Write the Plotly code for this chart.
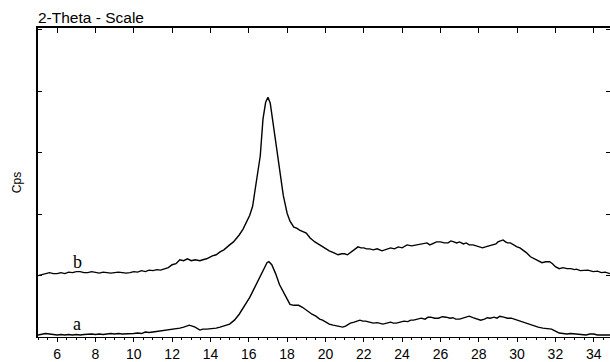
import plotly.graph_objects as go

# 2-theta (degrees) and intensity (arbitrary Cps units)
b_x = [5.0, 5.2, 5.4, 5.6, 5.8, 6.0, 6.2, 6.4, 6.6, 6.8, 7.0, 7.2, 7.4, 7.6, 7.8, 8.0, 8.2, 8.4,
       8.6, 8.8, 9.0, 9.2, 9.4, 9.6, 9.8, 10.0, 10.2, 10.4, 10.6, 10.8, 11.0, 11.2, 11.4, 11.6,
       11.8, 12.0, 12.2, 12.4, 12.6, 12.8, 13.0, 13.2, 13.45, 13.6, 13.8, 14.0, 14.1, 14.3, 14.5,
       14.7, 14.85, 15.0, 15.2, 15.35, 15.5, 15.7, 15.9, 16.05, 16.2, 16.4, 16.6, 16.74, 16.88,
       17.0, 17.12, 17.26, 17.5, 17.8, 18.0, 18.15, 18.35, 18.5, 18.65, 18.8, 19.0, 19.2, 19.45,
       19.7, 19.95, 20.2, 20.45, 20.66, 20.85, 21.0, 21.15, 21.3, 21.5, 21.7, 21.85, 22.0, 22.15,
       22.3, 22.5, 22.7, 22.95, 23.15, 23.4, 23.6, 23.8, 24.0, 24.26, 24.5, 24.8, 25.0, 25.3,
       25.45, 25.6, 25.8, 26.0, 26.2, 26.4, 26.55, 26.7, 26.85, 27.0, 27.2, 27.35, 27.5, 27.7,
       27.9, 28.05, 28.2, 28.35, 28.5, 28.75, 28.9, 29.0, 29.15, 29.27, 29.4, 29.5, 29.65, 29.8,
       30.0, 30.15, 30.3, 30.5, 30.7, 30.9, 31.1, 31.3, 31.5, 31.7, 31.85, 32.0, 32.2, 32.4,
       32.6, 32.8, 33.0, 33.1, 33.3, 33.5, 33.7, 33.97, 34.2, 34.4, 34.6, 34.85]
b_y = [62, 63, 64.5, 65, 64, 64, 65, 64, 65.5, 65, 66, 66, 65, 65, 66, 65, 64.5, 65.5,
       65, 64.5, 65, 65.5, 65, 64.5, 65, 66, 65.5, 67, 66, 67.5, 67, 68, 67.5, 69,
       70, 73, 74, 78, 77, 79, 77, 78, 77, 78, 79, 81, 82, 83, 86,
       88, 91, 93, 96, 99, 103, 109, 117, 123, 132, 160, 183, 220, 237,
       242, 236, 217, 183, 143, 125, 117, 111, 110, 108, 107, 105, 100, 96,
       93, 90, 87, 85, 83, 84, 84, 83, 85, 88, 91, 90, 90, 89,
       89, 88, 89, 87, 88, 90, 89, 91, 90, 93, 92, 93, 94, 95,
       93, 94, 96, 96, 95, 95, 97, 96, 95, 96, 94, 95, 93, 93,
       92, 91, 90, 91, 92, 93, 94, 96, 97, 98, 96, 95, 95, 93,
       91, 90, 88, 85, 81, 79, 77, 75, 76, 76, 74, 71, 69, 70,
       69, 69, 68, 68.5, 67, 67, 67.5, 66, 66.5, 65, 65.5, 64]

a_x = [5.0, 5.2, 5.4, 5.6, 5.8, 6.0, 6.2, 6.4, 6.6, 6.8, 7.0, 7.2, 7.4, 7.6, 7.8, 8.0, 8.2, 8.4,
       8.6, 8.8, 9.0, 9.2, 9.4, 9.6, 9.8, 10.0, 10.2, 10.4, 10.6, 10.8, 11.0, 11.2, 11.4, 11.6,
       11.8, 12.0, 12.2, 12.4, 12.6, 12.8, 12.9, 13.05, 13.2, 13.45, 13.6, 13.8, 14.0, 14.1, 14.3,
       14.5, 14.7, 14.85, 15.0, 15.25, 15.5, 16.05, 16.3, 16.6, 16.95, 17.05, 17.2, 17.4, 17.6,
       17.9, 18.15, 18.35, 18.6, 18.8, 19.0, 19.15, 19.3, 19.5, 19.7, 19.85, 20.0, 20.2, 20.4,
       20.6, 20.75, 20.9, 21.05, 21.2, 21.3, 21.5, 21.65, 21.8, 21.95, 22.1, 22.3, 22.5, 22.7,
       22.85, 23.0, 23.2, 23.4, 23.55, 23.7, 23.9, 24.1, 24.3, 24.45, 24.6, 24.8, 25.0, 25.2,
       25.35, 25.5, 25.7, 25.9, 26.1, 26.3, 26.5, 26.65, 26.8, 27.0, 27.15, 27.35, 27.5, 27.7,
       27.9, 28.1, 28.3, 28.45, 28.6, 28.8, 28.95, 29.1, 29.3, 29.5, 29.7, 29.85, 30.0, 30.2,
       30.4, 30.55, 30.7, 30.9, 31.1, 31.35, 31.6, 31.8, 32.0, 32.2, 32.4, 32.6, 32.8, 33.1,
       33.3, 33.6, 33.8, 34.0, 34.2, 34.4, 34.6, 34.85]
a_y = [2, 3, 3.5, 3, 2.5, 2, 2.5, 2, 2.5, 2, 2.5, 2, 2.5, 3, 3, 2.5, 3, 2.5,
       3, 3.5, 3, 3.5, 3, 3, 3, 3.5, 4, 3.5, 5, 4.5, 5, 5.5, 6, 6.5,
       7, 8, 8.5, 9, 10, 11, 12, 11, 10, 7, 8, 8, 8.5, 8, 9,
       10, 11, 12, 13, 17, 23, 40, 50, 62, 75, 76, 73, 64, 53,
       42, 33, 32, 32, 30, 27, 25, 23, 21, 18, 17, 15, 13, 12,
       11, 10.5, 10, 11, 13, 14, 15, 16, 17, 16, 16, 15, 14, 14.5,
       13.5, 13, 14, 15, 14, 14, 15, 16, 15.5, 17, 17, 18, 19, 18,
       20, 20, 19, 19, 20.5, 20, 19, 19.5, 18, 18, 19, 20, 21, 19.5,
       18, 17, 18, 19.5, 19, 20, 19, 21, 20, 19, 19, 18, 17, 15.5,
       14, 13, 12, 11, 10, 9, 8.5, 8, 6, 4, 3.5, 3, 3.5, 3,
       2.5, 2, 3, 3, 2, 2, 2.5, 2]

curve_labels = ["a", "b"]
label_pos = [(7.05, 13), (7.05, 76)]

x_range = [5, 34.85]
y_range = [0, 312]

fig = go.Figure()
line_style = dict(color="#000000", width=1.4)
fig.add_trace(go.Scatter(x=a_x, y=a_y, mode="lines", line=line_style, showlegend=False, hoverinfo="skip"))
fig.add_trace(go.Scatter(x=b_x, y=b_y, mode="lines", line=line_style, showlegend=False, hoverinfo="skip"))

for lab, (lx, ly) in zip(curve_labels, label_pos):
    fig.add_annotation(x=lx, y=ly, text=lab, showarrow=False,
                       font=dict(family="Liberation Serif", size=18, color="#000"))

fig.add_annotation(xref="paper", yref="paper", x=0, y=1, xanchor="left", yanchor="bottom",
                   text="2-Theta - Scale", showarrow=False, yshift=0, xshift=-2,
                   font=dict(family="Liberation Sans", size=15.5, color="#000"))

fig.update_layout(
    width=610, height=362,
    margin=dict(l=38, r=0, t=28, b=22),
    paper_bgcolor="white", plot_bgcolor="white",
    font=dict(family="Liberation Sans", color="#000"),
    xaxis=dict(range=x_range, tick0=6, dtick=2, ticks="outside", ticklen=4, tickwidth=1,
               tickcolor="#000", showline=True, linecolor="#000", linewidth=1.3,
               showgrid=False, zeroline=False,
               minor=dict(dtick=0.5, ticks="outside", ticklen=2, tickcolor="#000", showgrid=False),
               tickfont=dict(family="Liberation Sans", size=14, color="#000")),
    xaxis2=dict(range=x_range, overlaying="x", side="top", anchor="y", tick0=6, dtick=2,
                ticks="inside", ticklen=5, tickwidth=1, tickcolor="#000", showline=True,
                linecolor="#000", linewidth=1.5, showticklabels=False, showgrid=False, zeroline=False),
    yaxis=dict(range=y_range, tick0=0, dtick=62, ticks="inside", ticklen=4, tickwidth=1,
               tickcolor="#000", showline=True, linecolor="#000", linewidth=1.5,
               showticklabels=False, showgrid=False, zeroline=False,
               title=dict(text="Cps", standoff=12,
                          font=dict(family="Liberation Sans", size=12, color="#000"))),
    yaxis2=dict(range=y_range, overlaying="y", side="right", anchor="x", tick0=0, dtick=62,
                ticks="inside", ticklen=4, tickwidth=1, tickcolor="#000", showline=False,
                showticklabels=False, showgrid=False, zeroline=False),
)
# invisible trace so the secondary axes are rendered
fig.add_trace(go.Scatter(x=[x_range[0]], y=[y_range[0]], xaxis="x2", yaxis="y2", mode="markers",
                         marker=dict(opacity=0), showlegend=False, hoverinfo="skip"))

fig.write_html("out.html", config={"displayModeBar": False})

# remove the default page margin so the 610x362 figure fills the window exactly
with open("out.html", "r", encoding="utf-8") as f:
    html = f.read()
html = html.replace("<head>", "<head><style>html,body{margin:0;padding:0;overflow:hidden;}</style>", 1)
with open("out.html", "w", encoding="utf-8") as f:
    f.write(html)
